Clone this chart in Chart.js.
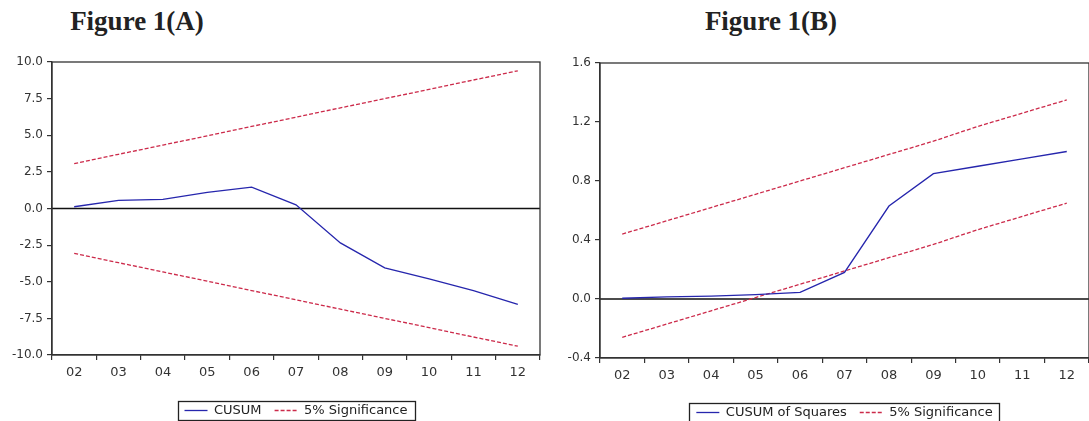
<!DOCTYPE html>
<html><head><meta charset="utf-8">
<script src="https://cdn.jsdelivr.net/npm/chart.js@4.4.1/dist/chart.umd.min.js"></script>
<style>
html,body{margin:0;padding:0;background:#fff;overflow:hidden;width:1089px;height:421px;position:relative;}
.t{position:absolute;font-family:'Liberation Serif',serif;font-weight:bold;font-size:27px;line-height:1;color:#222;width:240px;text-align:center;top:8px;}
#ca{position:absolute;left:0;top:0;}
#cb{position:absolute;left:545px;top:0;}
</style></head><body>
<div class="t" style="left:17px">Figure 1(A)</div>
<div class="t" style="left:651px">Figure 1(B)</div>
<canvas id="ca" width="545" height="427"></canvas>
<canvas id="cb" width="545" height="429"></canvas>
<script>
// ---- data ----
const years = ['02','03','04','05','06','07','08','09','10','11','12'];
const cusum      = [0.12, 0.55, 0.62, 1.1, 1.46, 0.25, -2.35, -4.05, -4.8, -5.6, -6.55];
const cusumUpper = [3.06, 3.7, 4.33, 4.96, 5.6, 6.23, 6.87, 7.5, 8.13, 8.77, 9.4];
const cusumLower = [-3.06, -3.7, -4.33, -4.96, -5.6, -6.23, -6.87, -7.5, -8.13, -8.77, -9.4];
const cusumSq    = [0.005, 0.015, 0.02, 0.03, 0.045, 0.18, 0.63, 0.85, 0.9, 0.95, 1.0];
const sqUpper    = [0.44, 0.53, 0.62, 0.71, 0.80, 0.89, 0.98, 1.07, 1.17, 1.26, 1.35];
const sqLower    = [-0.26, -0.17, -0.08, 0.01, 0.10, 0.19, 0.28, 0.37, 0.47, 0.56, 0.65];
const yTicksA = {min: -10, max: 10, step: 2.5};
const yTicksB = {min: -0.4, max: 1.6, step: 0.4};

const BLUE = '#2626ad';
const RED = '#cc2a4a';
const AX = '#333333';
const FONT = 'DejaVu Sans';

const framePlugin = {
  id: 'frame',
  beforeDatasetsDraw(chart) {
    const {ctx, chartArea: a} = chart;
    const y0 = chart.scales.y.getPixelForValue(0);
    ctx.save();
    ctx.strokeStyle = '#111'; ctx.lineWidth = 1.5;
    ctx.beginPath(); ctx.moveTo(a.left, y0); ctx.lineTo(a.right, y0); ctx.stroke();
    ctx.restore();
  },
  afterDraw(chart) {
    const {ctx, chartArea: a} = chart;
    ctx.save();
    ctx.strokeStyle = AX; ctx.lineWidth = 1.3;
    ctx.strokeRect(a.left, a.top, a.right - a.left, a.bottom - a.top);
    const hb = chart.legend && chart.legend.legendHitBoxes;
    if (hb && hb.length) {
      const l = Math.min(...hb.map(h => h.left));
      const r = Math.max(...hb.map(h => h.left + h.width));
      const t = Math.min(...hb.map(h => h.top));
      const b = Math.max(...hb.map(h => h.top + h.height));
      ctx.strokeStyle = '#222'; ctx.lineWidth = 1.3;
      ctx.strokeRect(Math.round(l - 7) + 0.5, Math.round(t - 3) + 0.5, Math.round(r - l + 14), Math.round(b - t + 6));
    }
    ctx.restore();
  }
};

function legendLabels(chart) {
  return chart.data.datasets.map((ds, i) => ({
    text: ds.label,
    datasetIndex: i,
    strokeStyle: ds.borderColor,
    fillStyle: ds.borderColor,
    fontColor: '#222',
    lineWidth: ds.borderWidth,
    lineDash: ds.borderDash || [],
    pointStyle: 'line',
    hidden: false
  })).filter(it => it.datasetIndex !== 2);
}

function makeChart(id, mainLabel, main, upper, lower, yt, opts) {
  return new Chart(document.getElementById(id), {
    type: 'line',
    data: {
      labels: years,
      datasets: [
        {label: mainLabel, data: main, borderColor: BLUE, backgroundColor: BLUE, borderWidth: 1.3},
        {label: '5% Significance', data: upper, borderColor: RED, backgroundColor: RED, borderWidth: 1.3, borderDash: [4, 2]},
        {label: '5% Significance', data: lower, borderColor: RED, backgroundColor: RED, borderWidth: 1.3, borderDash: [4, 2]}
      ]
    },
    options: {
      responsive: false,
      animation: false,
      elements: {point: {radius: 0}, line: {tension: 0}},
      layout: {padding: {top: opts.top, right: opts.right, left: 0, bottom: 0}},
      plugins: {
        tooltip: {enabled: false},
        legend: {
          position: 'bottom',
          fullSize: false,
          labels: {
            generateLabels: legendLabels,
            usePointStyle: true,
            pointStyle: 'line',
            pointStyleWidth: 23,
            padding: 13,
            color: '#222',
            font: {family: FONT, size: 13}
          }
        }
      },
      scales: {
        x: {
          offset: true,
          grid: {offset: true, drawOnChartArea: false, drawTicks: true, tickLength: 5, color: AX, lineWidth: 1.2},
          border: {display: true, color: AX, width: 1.3},
          ticks: {color: '#333', padding: 5, font: {family: FONT, size: 13}, maxRotation: 0, autoSkip: false},
          afterFit: (s) => { s.height = opts.xh; }
        },
        y: {
          min: yt.min, max: yt.max,
          grid: {drawOnChartArea: false, drawTicks: true, tickLength: 5, color: AX, lineWidth: 1.2},
          border: {display: true, color: AX, width: 1.3},
          ticks: {stepSize: yt.step, color: '#333', padding: 4, font: {family: FONT, size: 12},
                  callback: (v) => Number(v).toFixed(1)},
          afterFit: (s) => { s.width = opts.yw; }
        }
      }
    },
    plugins: [framePlugin]
  });
}

makeChart('ca', 'CUSUM', cusum, cusumUpper, cusumLower, yTicksA, {top: 62, right: 5, xh: 36, yw: 52});
makeChart('cb', 'CUSUM of Squares', cusumSq, sqUpper, sqLower, yTicksB, {top: 63, right: 1, xh: 35, yw: 55});
</script>
</body></html>
